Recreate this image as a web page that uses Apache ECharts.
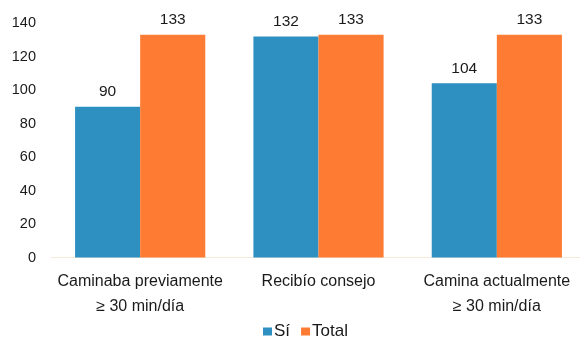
<!DOCTYPE html>
<html><head><meta charset="utf-8">
<script src="https://cdn.jsdelivr.net/npm/echarts@6/dist/echarts.min.js"></script>
<style>html,body{margin:0;padding:0;background:#fff;overflow:hidden;width:580px;height:340px}#c{width:592px;height:340px}</style>
</head><body><div id="c"></div>
<script>
const categories = ['Caminaba previamente\n≥ 30 min/día', 'Recibío consejo', 'Camina actualmente\n≥ 30 min/día'];
const siValues = [90, 132, 104];
const totalValues = [133, 133, 133];
const seriesNames = ['Sí', 'Total'];
const yTicks = {min: 0, max: 140, interval: 20};

const chart = echarts.init(document.getElementById('c'), null, {renderer: 'canvas'});
const font = 'Liberation Sans, Arial, sans-serif';
const lbl = {show: true, position: 'top', distance: 7, color: '#1a1a1a', fontSize: 15.5, fontFamily: font};
chart.setOption({
  animation: false,
  backgroundColor: '#fff',
  textStyle: {fontFamily: font},
  grid: {left: 51, width: 535, top: 23, bottom: 82.5, containLabel: false},
  legend: {
    data: seriesNames, top: 323, left: 263, padding: 0, icon: 'rect', itemWidth: 9, itemHeight: 8, itemGap: 11,
    textStyle: {fontSize: 17, color: '#1a1a1a', fontFamily: font, padding: [0, 0, 0, -3]}
  },
  xAxis: {
    type: 'category', data: categories,
    axisTick: {show: false},
    axisLine: {show: true, lineStyle: {color: '#f3ead8', width: 1}},
    axisLabel: {fontSize: 16, color: '#1a1a1a', fontFamily: font, margin: 12, lineHeight: 25, interval: 0}
  },
  yAxis: {
    type: 'value', min: yTicks.min, max: yTicks.max, interval: yTicks.interval,
    splitLine: {show: false}, axisLine: {show: false}, axisTick: {show: false},
    axisLabel: {fontSize: 14.5, color: '#1a1a1a', fontFamily: font, margin: 15}
  },
  series: [
    {name: seriesNames[0], type: 'bar', data: siValues, barGap: '0%', barCategoryGap: '27%',
     itemStyle: {color: '#2e8fc1'}, label: lbl},
    {name: seriesNames[1], type: 'bar', data: totalValues, barGap: '0%', barCategoryGap: '27%',
     itemStyle: {color: '#fe7b33'}, label: lbl}
  ]
});
</script></body></html>
